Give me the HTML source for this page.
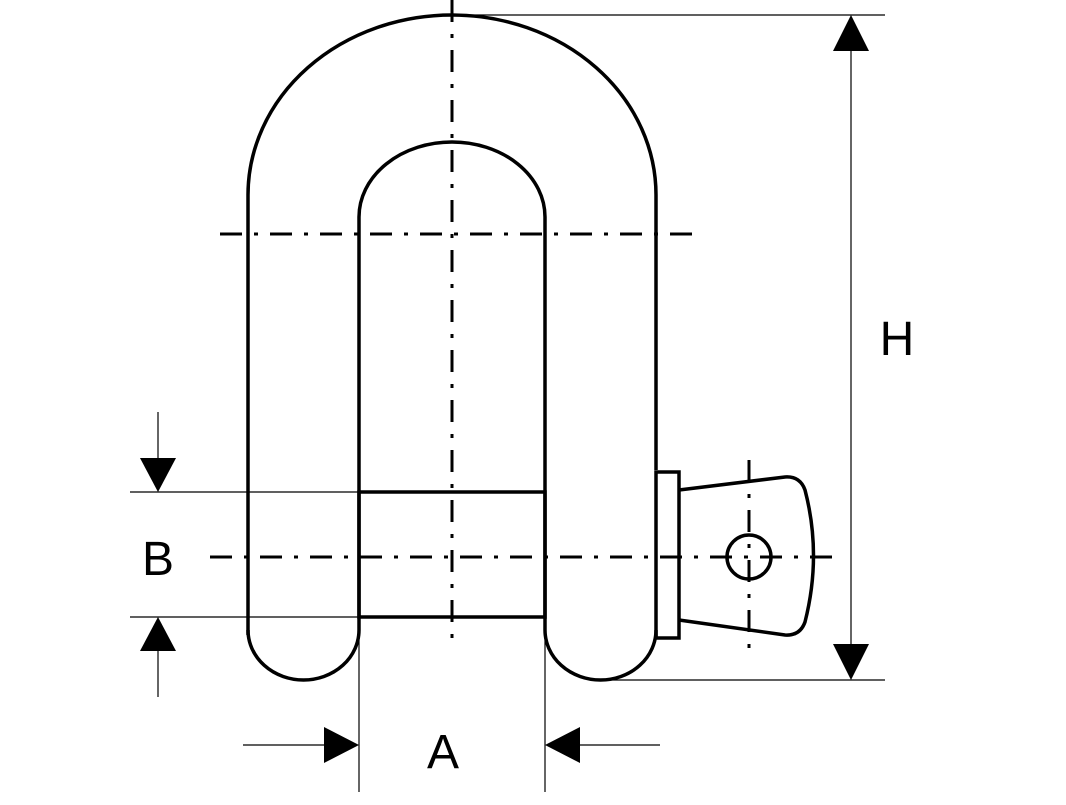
<!DOCTYPE html>
<html><head><style>html,body{margin:0;padding:0;background:#fff}</style></head>
<body>
<svg width="1066" height="800" viewBox="0 0 1066 800" xmlns="http://www.w3.org/2000/svg">
<g fill="none" stroke="#000" stroke-width="3.5">
<path d="M248,635 L248,195 A204,180 0 0 1 656,195 L656,440 L656,470"/>
<path d="M359,630 L359,217 A93,75 0 0 1 545,217 L545,630"/>
<path d="M248,630 A55.5,50 0 0 0 359,630"/>
<path d="M545,630 A55.5,50 0 0 0 656,630 L656,638"/>
<rect x="359" y="492" width="186" height="125"/>
<rect x="656" y="472" width="23" height="166"/>
<path d="M679,490 L785,477 Q800,476 805,490 Q822,555 805,622 Q800,636 785,635 L679,620"/>
<circle cx="749" cy="557" r="22"/>
</g>
<g fill="none" stroke="#000" stroke-width="3" stroke-dasharray="22,12,4,12">
<line x1="220" y1="234" x2="695" y2="234"/>
<line x1="452" y1="0" x2="452" y2="640"/>
<line x1="210" y1="557" x2="835" y2="557"/>
<line x1="749" y1="460" x2="749" y2="650"/>
</g>
<g stroke="#000" stroke-width="1.2">
<line x1="452" y1="15" x2="885" y2="15"/>
<line x1="600" y1="680" x2="885" y2="680"/>
<line x1="851" y1="40" x2="851" y2="655"/>
<line x1="130" y1="492" x2="359" y2="492"/>
<line x1="130" y1="617" x2="359" y2="617"/>
<line x1="158" y1="412" x2="158" y2="470"/>
<line x1="158" y1="640" x2="158" y2="697"/>
<line x1="359" y1="640" x2="359" y2="792"/>
<line x1="545" y1="640" x2="545" y2="792"/>
<line x1="243" y1="745" x2="330" y2="745"/>
<line x1="575" y1="745" x2="660" y2="745"/>
</g>
<g fill="#000">
<polygon points="851,15 833,51 869,51"/>
<polygon points="851,680 833,644 869,644"/>
<polygon points="158,492 140,458 176,458"/>
<polygon points="158,617 140,651 176,651"/>
<polygon points="359,745 324,727 324,763"/>
<polygon points="545,745 580,727 580,763"/>
</g>
<g font-family="Liberation Sans, sans-serif" font-size="48" fill="#000" text-anchor="middle">
<text x="897" y="355">H</text>
<text x="158" y="575">B</text>
<text x="443" y="768">A</text>
</g>
</svg>
</body></html>
